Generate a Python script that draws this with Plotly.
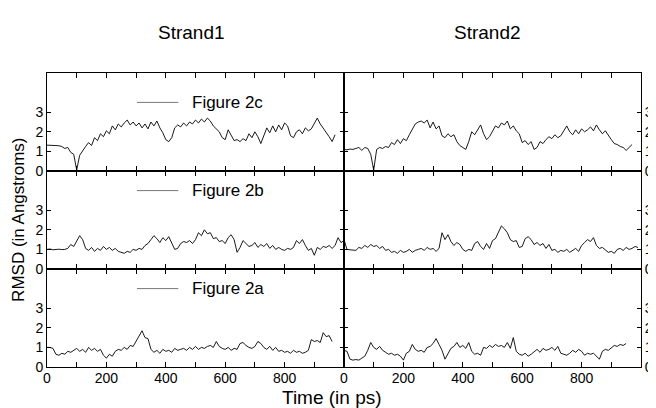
import plotly.graph_objects as go
from plotly.subplots import make_subplots

TIME_STEP = 10  # ps between samples

# Strand1 / Strand2 RMSD values (Angstroms), sampled every 10 ps from t=0
s1_2c = [1.32,1.31,1.33,1.30,1.29, 1.25,1.15,1.2,0.95,0.85, 0.05,
         0.8,1.05,1.25,1.45,1.3, 1.7,1.55,1.9,1.75,2.05,
         1.9,2.3,2.1,2.4,2.25,2.45, 2.6,2.35,2.5,2.3,
         2.45,2.2,2.4,2.15,2.5,2.3,2.55, 2.2,1.95,1.6,1.5,
         1.7,2.2,2.35,2.25,2.45, 2.3,2.5,2.4,2.6,2.45,2.65,2.5,2.7,2.55,
         2.3,2.15,2.0,1.7,1.6, 2.1,1.8,1.55,1.6,
         1.5,1.65,1.55,1.9,1.7,2.0, 1.75,1.4,1.8, 2.2,1.95,2.3,2.0,
         2.35,2.1,2.45,2.3, 1.8,1.7,2.0, 2.1,1.9,2.2,2.05,2.15,2.4,
         2.7,2.4,2.2,2.0,1.75,1.5, 1.85]
s2_2c = [1.1,1.08,1.12,1.1, 1.15,1.2,1.05,1.2,1.15, 0.85,0.05,
         1.1,1.2,1.15,1.25,1.2, 1.45,1.35,1.6,1.4,1.65,1.55,
         1.85,2.1,2.4,2.5, 2.55,2.45,2.6,2.2,
         2.5,2.15,2.3,1.8,1.7, 1.9,1.75,1.85,1.5,1.3,
         1.2,1.1,1.5, 2.0,1.85,2.1,2.35, 1.9,1.6,1.75,2.0,
         2.3,2.2,2.45,2.35,2.55, 2.15,2.3,2.05,1.9,
         1.45,1.55,1.35,1.5,1.1, 1.2,1.5,1.4,1.6,1.75,
         1.65,1.85,1.7,1.8, 2.05,2.3,2.0, 1.85,2.1,1.9,2.15,
         2.0,2.1,2.25,2.05,2.35, 2.1,1.9,2.05,1.8,
         1.6,1.4,1.35,1.25,1.2, 1.05,1.2,1.35]
s1_2b = [1.0,1.02,0.98,1.0,1.01,0.99,1.0, 1.05,1.25,1.15,1.45,
         1.7,1.5,1.05,0.95,
         1.1,0.9,1.05,0.95,1.15,1.0,1.1,0.95,1.05,0.9,
         0.85,0.8,0.9,0.85,1.0,0.95,1.05,1.0,1.2,
         1.3,1.5,1.7,1.55,1.35, 1.6,1.45,1.65,1.3,
         1.0,1.05,1.3,1.4, 1.35,1.45,1.3,1.5,
         1.85,1.7,2.0,1.8,1.85, 1.55,1.6,1.4,1.45,1.3,
         1.6,1.75,1.5,0.85, 1.1,1.45,1.3,1.15,1.2,
         1.35,1.1,1.25,1.15,1.3,1.05,1.2,1.0,1.1,
         1.0,0.95,1.05,1.0,1.1, 1.45,1.3,1.5,1.2,0.95,
         1.05,0.7,1.1, 1.0,1.15,1.1,1.2,1.05,1.2, 1.6,1.35,1.45]
s2_2b = [1.5,1.0,0.98,0.96,0.95,
         1.1,1.05,1.2,1.1,1.25,1.15,1.2,1.05,1.15,
         0.95,1.0,0.85,0.9,0.8,
         0.95,0.85,0.9,1.0,0.85,0.95,1.0,
         1.05,0.95,1.1,1.0,1.05,0.9,1.05,
         1.85,1.5,1.75,1.4, 1.2,1.35,1.25,1.0,0.9,
         1.0,0.95,1.3,1.4, 1.15,1.0,1.3,1.05,
         1.45,1.55,1.9, 2.2,2.05,1.85, 1.5,1.4,1.45,1.1,
         1.15,1.55,1.65,1.5,1.25, 1.35,1.2,1.3,1.05,1.25,
         0.95,1.0,0.85,0.95,0.9,1.0,0.85,0.95,1.05,0.9,
         1.2,1.35,1.5,1.4,1.6, 1.2,1.05,1.1,0.95,
         0.85,0.9,0.8,1.0, 1.05,0.95,1.1,1.0,1.05,1.15,1.1]
s1_2a = [1.0,1.0,0.95, 0.65,0.6,0.7,0.65, 0.8,0.75,0.85,0.95,
         0.8,0.9,0.75,1.0,0.85,0.95,0.8,0.9,
         0.6,0.45,0.65,0.55, 0.8,0.9,0.85,1.0,0.9,
         1.1,1.05,1.3,1.55, 1.85,1.5,1.45, 0.9,0.75,
         0.85,0.7,0.9,0.8,0.85,0.75,0.95,0.85,0.9,
         0.95,0.85,1.0,0.9,1.05,0.9,1.0,0.95,1.05,
         1.1,1.0,1.3,1.05,0.95, 0.9,1.0,0.85,0.95,0.9,1.2,
         1.25,1.1,1.0,0.95,1.05, 1.3,1.2,1.0,
         0.9,1.05,0.85,1.0,0.8,
         0.85,0.75,0.8,0.7,0.85,0.75,0.8,0.7,0.75,0.85,
         1.4,1.3,1.35,1.25, 1.75,1.55,1.6,1.3]
s2_2a = [0.85,0.8,0.4, 0.35,0.38,0.35, 0.45,0.55,0.85,1.25,
         1.0,0.9,1.05,0.85, 0.75,0.65,0.7,0.6,0.65,0.55,
         0.35,0.7,0.8,1.15, 0.9,0.8,0.85,0.75, 1.0,1.05,1.2,
         1.45,1.15,0.85,0.4, 0.7,0.95,1.05,1.25, 1.0,1.1,0.95,
         1.25,0.8, 0.65,0.7,0.6,
         1.0,0.95,1.1,1.0,1.15,1.05,1.1,1.0,1.25,
         0.95,1.5,0.8, 0.65,0.6,0.7,0.55,0.65,
         0.8,0.9,0.75,0.95,0.85, 0.9,1.0,0.85,1.05,0.7,
         0.65,0.6,0.7, 0.85,0.75,0.9,0.8,
         0.6,0.7,0.65,0.7,0.55,0.4, 0.8,0.9,0.85,1.0,
         1.1,1.05,1.15,1.1,1.2]

column_titles = ["Strand1", "Strand2"]
row_labels = ["Figure 2c", "Figure 2b", "Figure 2a"]
panels = [[s1_2c, s2_2c], [s1_2b, s2_2b], [s1_2a, s2_2a]]
x_tick_vals = [0, 100, 200, 300, 400, 500, 600, 700, 800, 900, 1000]
x_tick_left = ["0", "", "200", "", "400", "", "600", "", "800", "", ""]
x_tick_right = ["0", "", "200", "", "400", "", "600", "", "800", "", "1000"]
y_tick_vals = [0, 1, 2, 3]
legend_y = [3.5, 4.0, 4.0]

FONT = "Liberation Sans, Arial, sans-serif"

fig = make_subplots(rows=3, cols=2, horizontal_spacing=0, vertical_spacing=0)

for r in range(3):
    for c in range(2):
        vals = panels[r][c]
        t = [i * TIME_STEP for i in range(len(vals))]
        fig.add_trace(go.Scatter(x=t, y=vals, mode="lines",
                                 line=dict(color="black", width=0.9),
                                 showlegend=False, hoverinfo="skip"),
                      row=r + 1, col=c + 1)
        bottom = (r == 2)
        fig.update_xaxes(range=[0, 1000], tickmode="array", tickvals=x_tick_vals,
                         ticktext=(x_tick_right if c == 1 else x_tick_left),
                         showticklabels=bottom, ticks="inside", ticklen=5,
                         tickwidth=1, tickcolor="black", ticklabelstandoff=-2,
                         showline=True, linecolor="black", linewidth=1,
                         mirror="ticks", showgrid=False, zeroline=False,
                         automargin=False,
                         tickfont=dict(family=FONT, size=14, color="black"),
                         row=r + 1, col=c + 1)
        fig.update_yaxes(range=[0, 5], tickmode="array", tickvals=y_tick_vals,
                         ticks="inside", ticklen=4, tickwidth=1, tickcolor="black",
                         showline=True, linecolor="black", linewidth=1,
                         mirror="ticks", showgrid=False, zeroline=False,
                         automargin=False,
                         side=("right" if c == 1 else "left"),
                         tickfont=dict(family=FONT, size=14, color="black"),
                         row=r + 1, col=c + 1)
    # legend-like sample line and label in left panel of each row
    fig.add_shape(type="line", x0=303, x1=442, y0=legend_y[r], y1=legend_y[r],
                  line=dict(color="#777777", width=1), row=r + 1, col=1)
    fig.add_annotation(x=482, y=legend_y[r], text=row_labels[r], showarrow=False,
                       xanchor="left", yanchor="middle",
                       font=dict(family=FONT, size=17, color="black"),
                       row=r + 1, col=1)

for i, title in enumerate(column_titles):
    fig.add_annotation(x=[0.244, 0.742][i], y=1.139, xref="paper", yref="paper",
                       text=title, showarrow=False, xanchor="center", yanchor="middle",
                       font=dict(family=FONT, size=19, color="black"))

fig.add_annotation(x=0.48, y=-0.1054, xref="paper", yref="paper", text="Time (in ps)",
                   showarrow=False, xanchor="center", yanchor="middle",
                   font=dict(family=FONT, size=19, color="black"))
fig.add_annotation(x=-0.049, y=0.5, xref="paper", yref="paper",
                   text="RMSD (in Angstroms)", textangle=-90, showarrow=False,
                   xanchor="center", yanchor="middle",
                   font=dict(family=FONT, size=17, color="black"))

# page body has an 8px default margin; size the figure so the plot area lands
# at the same window position as in the reference
fig.update_layout(width=648, height=400,
                  margin=dict(l=39, r=15, t=65, b=41, autoexpand=False),
                  plot_bgcolor="white", paper_bgcolor="white",
                  showlegend=False)

fig.write_html("out.html")
